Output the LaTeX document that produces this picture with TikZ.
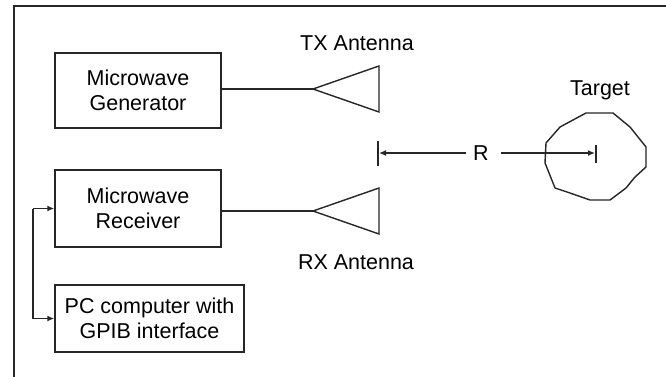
\documentclass[tikz,border=0pt]{standalone}
\usepackage{fontspec}
\setmainfont{Liberation Sans}
\usetikzlibrary{arrows.meta}
\begin{document}
\begin{tikzpicture}[x=1pt,y=-1pt,
  line width=1.4pt, draw=black!85,
  blk/.style={draw, line width=1.4pt, align=center, inner sep=0pt, font=\fontsize{21.5}{25}\selectfont},
  lbl/.style={font=\fontsize{21.5}{25}\selectfont, inner sep=0pt},
  tip/.style={-{Latex[length=7pt,width=6pt]}}]
\useasboundingbox (0,0) rectangle (666,377);
\fill[white] (0,0) rectangle (666,377);
% frame
\draw[line width=1.6pt] (14,377) -- (14,6) -- (666,6);
% boxes
\node[blk, minimum width=166, minimum height=75] (gen) at (138,90.5) {Microwave\\Generator};
\node[blk, minimum width=166, minimum height=77] (rcv) at (138,208.5) {Microwave\\Receiver};
\node[blk, minimum width=189, minimum height=67] (pc) at (149.5,318.5) {PC computer with\\GPIB interface};
% TX antenna
\coordinate (txtip) at (313,89);
\coordinate (txtop) at (379,66);
\coordinate (txbot) at (379,112);
\draw (txtip) -- (txtop) -- (txbot) -- cycle;
\draw (gen.east |- txtip) -- (txtip);
\node[lbl] (txl) at (357,43) {TX Antenna};
% RX antenna
\coordinate (rxtip) at (313,211);
\coordinate (rxtop) at (379,188);
\coordinate (rxbot) at (379,234);
\draw (rxtip) -- (rxtop) -- (rxbot) -- cycle;
\draw (rcv.east |- rxtip) -- (rxtip);
\node[lbl] (rxl) at (356,262) {RX Antenna};
% bus
\coordinate (bus) at (33,0);
\draw[tip] (bus |- rcv.west) -- (rcv.west);
\draw[tip] (bus |- rcv.west) -- (bus |- pc.west) -- (pc.west);
% range
\coordinate (lt1) at (378,141);
\coordinate (lt2) at (378,166);
\coordinate (rt1) at (596,145);
\coordinate (rt2) at (596,163);
\draw (lt1) -- (lt2);
\draw (rt1) -- (rt2);
\node[lbl] (R) at (481,153) {R};
\draw[tip] (466,153) -- (379,153);
\draw[tip] (501,153) -- (595,153);
% target
\draw[line width=1.4pt, line join=round]
  (586,113) -- (613,113) -- (630,127) -- (646,147) -- (646,167) -- (635,177)
  -- (626,188) -- (610,200) -- (590,200) -- (570,193) -- (555,188)
  -- (553,183) -- (545,163) -- (546,143) -- (560,127) -- (573,120) -- cycle;
\node[lbl] (tgt) at (600,90) {Target};
\end{tikzpicture}
\end{document}
